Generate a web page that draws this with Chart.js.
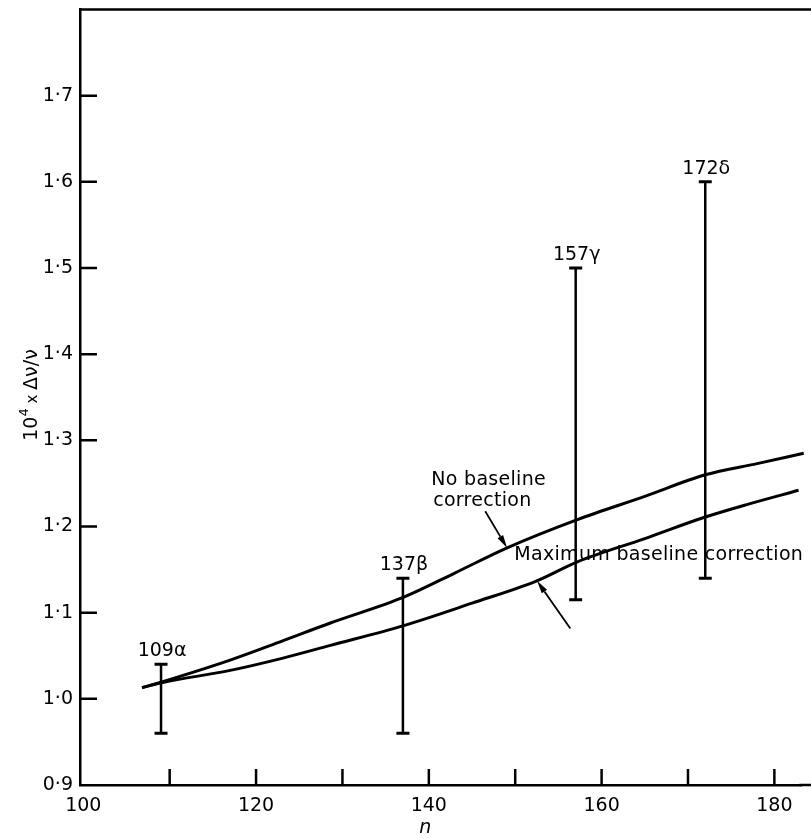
<!DOCTYPE html>
<html>
<head>
<meta charset="utf-8">
<script src="https://cdn.jsdelivr.net/npm/chart.js@4.4.1/dist/chart.umd.min.js"></script>
<style>
  html, body { margin: 0; padding: 0; background: #fff; }
  #wrap { width: 811px; height: 838px; }
</style>
</head>
<body>
<div id="wrap"><canvas id="myChart" width="811" height="838"></canvas></div>
<script>
// Line width 10^4 x dv/v against principal quantum number n
const nNoCorr = [106.8, 109.2, 117, 123, 128.6, 137.1, 143, 149, 157.2, 165, 172, 178, 183.4];
const vNoCorr = [1.013, 1.020, 1.045, 1.067, 1.088, 1.118, 1.146, 1.175, 1.208, 1.235, 1.260, 1.273, 1.285];

const nMaxCorr = [106.8, 109.2, 117, 123, 128.6, 137.1, 145, 152.5, 157.2, 165, 172, 177, 182.8];
const vMaxCorr = [1.013, 1.019, 1.033, 1.047, 1.062, 1.085, 1.111, 1.137, 1.159, 1.186, 1.211, 1.226, 1.242];

// measured lines with their ranges
const barNames = ['109α', '137β', '157γ', '172δ'];
const barN = [109, 137, 157, 172];
const barLo = [0.96, 0.96, 1.115, 1.14];
const barHi = [1.04, 1.14, 1.50, 1.60];

const xTicks = [100, 120, 140, 160, 180];
const yTicks = [0.9, 1.0, 1.1, 1.2, 1.3, 1.4, 1.5, 1.6, 1.7];

const ink = '#000';
const face = "'DejaVu Sans', sans-serif";

Chart.defaults.font.family = face;
Chart.defaults.font.size = 19;
Chart.defaults.color = ink;

function pts(xs, ys) {
    return xs.map((x, i) => ({ x: x, y: ys[i] }));
}

const curve = (label, xs, ys) => ({
    label: label,
    data: pts(xs, ys),
    showLine: true,
    clip: false,
    borderColor: ink,
    borderWidth: 3,
    cubicInterpolationMode: 'monotone',
    pointRadius: 0
});

const datasets = [
    curve('No baseline correction', nNoCorr, vNoCorr),
    curve('Maximum baseline correction', nMaxCorr, vMaxCorr)
];

barN.forEach((n, i) => {
    datasets.push({
        label: barNames[i],
        data: [{ x: n, y: barLo[i] }, { x: n, y: barHi[i] }],
        showLine: true,
        borderColor: ink,
        borderWidth: 2.5,
        pointStyle: 'line',
        pointRadius: 6.5,
        pointBorderWidth: 3,
        pointBorderColor: ink
    });
});

// text and arrows written on the plot, anchored in data units
const notes = [
    { text: 'No baseline', n: 140.28, v: 1.2476 },
    { text: 'correction', n: 140.5, v: 1.2234 },
    { text: 'Maximum baseline correction', n: 149.9, v: 1.1615 }
];
const arrows = [
    { from: [146.53, 1.2176], to: [149.05, 1.1753] },
    { from: [156.38, 1.0815], to: [152.52, 1.1369] }
];

function arrow(ctx, x0, y0, x1, y1) {
    const ang = Math.atan2(y1 - y0, x1 - x0);
    const len = 13, half = 3.2;
    const bx = x1 - len * Math.cos(ang), by = y1 - len * Math.sin(ang);
    ctx.beginPath();
    ctx.moveTo(x0, y0);
    ctx.lineTo(bx, by);
    ctx.stroke();
    ctx.beginPath();
    ctx.moveTo(x1, y1);
    ctx.lineTo(bx + half * Math.sin(ang), by - half * Math.cos(ang));
    ctx.lineTo(bx - half * Math.sin(ang), by + half * Math.cos(ang));
    ctx.closePath();
    ctx.fill();
}

const decorations = {
    id: 'decorations',
    afterDatasetsDraw(chart) {
        const { ctx, chartArea: a, scales: { x, y } } = chart;
        ctx.save();
        ctx.strokeStyle = ink;
        ctx.fillStyle = ink;
        ctx.lineWidth = 2.5;
        ctx.lineCap = 'butt';

        // frame top, and the bottom axis carried on to the page edge
        ctx.beginPath();
        ctx.moveTo(a.left - 1, a.top);
        ctx.lineTo(chart.width, a.top);
        ctx.moveTo(a.right - 2, a.bottom);
        ctx.lineTo(chart.width, a.bottom);
        ctx.stroke();

        // tick marks pointing into the plot
        ctx.beginPath();
        x.ticks.forEach(t => {
            const px = x.getPixelForValue(t.value);
            if (px - a.left < 5 || a.right - px < 5) return;
            ctx.moveTo(px, a.bottom);
            ctx.lineTo(px, a.bottom - 16);
        });
        y.ticks.forEach(t => {
            const py = y.getPixelForValue(t.value);
            if (py - a.top < 5 || a.bottom - py < 5) return;
            ctx.moveTo(a.left, py);
            ctx.lineTo(a.left + 17, py);
        });
        ctx.stroke();

        // line names above each range
        ctx.font = '19px ' + face;
        ctx.textAlign = 'center';
        ctx.textBaseline = 'alphabetic';
        barN.forEach((n, i) => {
            ctx.fillText(barNames[i], x.getPixelForValue(n) + 1, y.getPixelForValue(barHi[i]) - 8);
        });

        // curve notes
        ctx.textAlign = 'left';
        ctx.letterSpacing = '0.3px';
        notes.forEach(o => {
            ctx.fillText(o.text, x.getPixelForValue(o.n), y.getPixelForValue(o.v));
        });
        ctx.letterSpacing = '0px';

        ctx.lineWidth = 1.8;
        arrows.forEach(r => {
            arrow(ctx,
                x.getPixelForValue(r.from[0]), y.getPixelForValue(r.from[1]),
                x.getPixelForValue(r.to[0]), y.getPixelForValue(r.to[1]));
        });

        // axis titles
        ctx.textAlign = 'center';
        ctx.font = 'italic 19px ' + face;
        ctx.fillText('n', x.getPixelForValue(139.6), 833);

        ctx.translate(30, 395);
        ctx.rotate(-Math.PI / 2);
        ctx.textAlign = 'left';
        const parts = [
            { s: '10', f: '19px ' + face, dy: 0 },
            { s: '4', f: '13px ' + face, dy: -9 },
            { s: ' x ', f: '15px ' + face, dy: 0 },
            { s: 'Δν/ν', f: '19px ' + face, dy: 0 }
        ];
        let total = 0;
        parts.forEach(p => { ctx.font = p.f; p.w = ctx.measureText(p.s).width; total += p.w; });
        let cx = -total / 2;
        parts.forEach(p => {
            ctx.font = p.f;
            ctx.fillText(p.s, cx, 7 + p.dy);
            cx += p.w;
        });
        ctx.restore();
    }
};

// keep the plot box fixed: no extra room for overhanging tick labels
function noOverhang(s) {
    s.paddingTop = 0;
    s.paddingBottom = 0;
    s.paddingLeft = 0;
    s.paddingRight = 0;
}

const ctx = document.getElementById('myChart').getContext('2d');
const myChart = new Chart(ctx, {
    type: 'scatter',
    data: { datasets: datasets },
    plugins: [decorations],
    options: {
        responsive: false,
        animation: false,
        events: [],
        layout: { padding: { top: 6, right: 0, left: 0, bottom: 0 } },
        plugins: { legend: { display: false }, tooltip: { enabled: false } },
        scales: {
            x: {
                type: 'linear',
                min: 99.62,
                max: 183.14,
                grid: { display: false, drawTicks: false },
                border: { display: true, color: ink, width: 2.5 },
                ticks: {
                    stepSize: 10,
                    includeBounds: false,
                    padding: 10,
                    maxRotation: 0,
                    autoSkip: false,
                    callback: v => xTicks.includes(Math.round(v)) && Math.abs(v - Math.round(v)) < 1e-6 ? String(Math.round(v)) : ''
                },
                afterFit: s => { s.height = 838 - 785; noOverhang(s); }
            },
            y: {
                type: 'linear',
                min: 0.9,
                max: 1.8,
                grid: { display: false, drawTicks: false },
                border: { display: true, color: ink, width: 2.5 },
                ticks: {
                    stepSize: 0.1,
                    padding: 7,
                    autoSkip: false,
                    callback: v => {
                        const r = Math.round(v * 10) / 10;
                        return yTicks.some(t => Math.abs(t - r) < 1e-6) ? r.toFixed(1).replace('.', '·') : '';
                    }
                },
                afterFit: s => { s.width = 80; noOverhang(s); }
            }
        }
    }
});
</script>
</body>
</html>
